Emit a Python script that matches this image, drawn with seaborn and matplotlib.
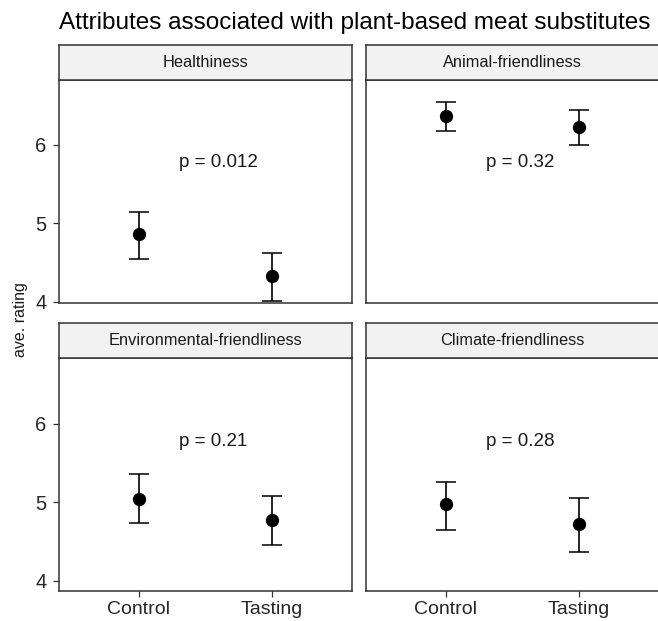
import numpy as np
import pandas as pd
import matplotlib
matplotlib.use("Agg")
import matplotlib.pyplot as plt
import seaborn as sns

# summary values (mean and error bar ends)
attributes = ["Healthiness", "Animal-friendliness",
              "Environmental-friendliness", "Climate-friendliness"]
groups = ["Control", "Tasting"]
means = [[4.86, 4.33], [6.37, 6.23], [5.04, 4.77], [4.97, 4.72]]
lower = [[4.55, 4.01], [6.18, 6.00], [4.73, 4.45], [4.64, 4.36]]
upper = [[5.14, 4.62], [6.54, 6.44], [5.36, 5.08], [5.26, 5.05]]
p_labels = ["p = 0.012", "p = 0.32", "p = 0.21", "p = 0.28"]

rows = []
for i, att in enumerate(attributes):
    for j, g in enumerate(groups):
        rows.append({"attribute": att, "group": g, "mean": means[i][j],
                     "lower": lower[i][j], "upper": upper[i][j]})
df = pd.DataFrame(rows)

sns.set_style("white")
plt.rcParams["font.family"] = ["Liberation Sans", "DejaVu Sans"]

W, H = 658, 621
fig = plt.figure(figsize=(W / 100, H / 100), dpi=100)

edge = "#333333"
# panel boxes in pixels: left, right, strip top, strip bottom, panel bottom
col_x = [(59, 352), (366, 659)]
row_y = [(45, 80, 303), (323, 358, 591)]
row_ylim = [(3.985, 6.826), (3.869, 6.834)]

for k, att in enumerate(attributes):
    r, c = divmod(k, 2)
    x0, x1 = col_x[c]
    st, sb, pb = row_y[r]
    ax = fig.add_axes([x0 / W, 1 - pb / H, (x1 - x0) / W, (pb - sb) / H])
    sub = df[df["attribute"] == att]

    sns.pointplot(data=sub, x="group", y="mean", order=groups, color="black",
                  linestyle="none", errorbar=None, marker="o", markersize=7.5,
                  ax=ax)
    ax.errorbar(x=np.arange(len(groups)), y=sub["mean"],
                yerr=[sub["mean"] - sub["lower"], sub["upper"] - sub["mean"]],
                fmt="none", ecolor="black", elinewidth=1.2, capsize=7,
                capthick=1.1)
    ax.text(0.3, 5.77, p_labels[k], ha="left", va="center", fontsize=13.5,
            color="#1a1a1a")

    ax.set_xlim(-0.6, 1.6)
    ax.set_ylim(*row_ylim[r])
    ax.set_yticks([4, 5, 6])
    ax.set_xlabel("")
    ax.set_ylabel("")
    for sp in ax.spines.values():
        sp.set_color(edge)
        sp.set_linewidth(1.1)
    ax.tick_params(axis="both", length=4, width=0.9, color=edge,
                   labelsize=14.5, labelcolor="#262626", direction="out",
                   left=True, bottom=True)
    ax.tick_params(axis="y", pad=5)
    ax.tick_params(axis="x", pad=3, labelsize=14)
    if r == 0:
        ax.tick_params(axis="x", bottom=False, labelbottom=False)
    if c == 1:
        ax.tick_params(axis="y", left=False, labelleft=False)

    # facet strip
    sax = fig.add_axes([x0 / W, 1 - sb / H, (x1 - x0) / W, (sb - st) / H])
    sax.set_facecolor("#f2f2f2")
    sax.set_xticks([])
    sax.set_yticks([])
    for sp in sax.spines.values():
        sp.set_color(edge)
        sp.set_linewidth(1.1)
    sax.text(0.5, 0.5, att, ha="center", va="center", fontsize=11.8,
             color="#1a1a1a", transform=sax.transAxes)

fig.text(59 / W, 1 - 29 / H, "Attributes associated with plant-based meat substitutes",
         ha="left", va="baseline", fontsize=17.5, color="black")
fig.text(21 / W, 1 - 320 / H, "ave. rating", rotation=90, ha="center",
         va="center", fontsize=11.5, color="#1a1a1a")

fig.savefig("out.png", dpi=100)
